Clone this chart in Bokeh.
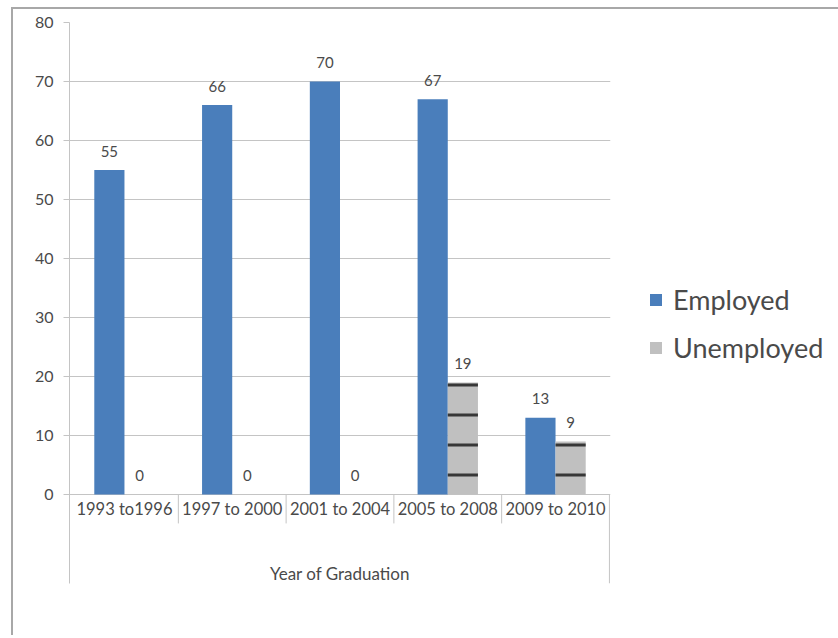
from bokeh.plotting import figure
from bokeh.models import (FactorRange, Range1d, FixedTicker, Legend, LegendItem,
                          ColumnDataSource)
from bokeh.transform import dodge
from bokeh.core.properties import value
from bokeh.embed import file_html
from bokeh.resources import INLINE

categories = ["1993 to1996", "1997 to 2000", "2001 to 2004", "2005 to 2008", "2009 to 2010"]
employed = [55, 66, 70, 67, 13]
unemployed = [0, 0, 0, 19, 9]
y_ticks = [0, 10, 20, 30, 40, 50, 60, 70, 80]
series_names = ["Employed", "Unemployed"]
x_title = "Year of Graduation"

FONT = "Lato"
TXT = "#4a4a4a"
GRID = "#c4c4c4"
BLUE = "#4a7ebb"

src = ColumnDataSource(dict(
    cat=categories,
    emp=employed,
    unemp=unemployed,
    emp_lbl=[str(v) for v in employed],
    unemp_lbl=[str(v) for v in unemployed],
))

y_bottom = -15.08
p = figure(
    x_range=FactorRange(*categories, range_padding=0.01, range_padding_units="absolute"),
    y_range=Range1d(y_bottom, 80),
    frame_width=541, frame_height=561,
    min_border_left=56, min_border_right=10, min_border_top=13, min_border_bottom=52,
    x_axis_location=None,
    output_backend="svg", toolbar_location=None,
)
p.styles = {"border-left": "2px solid #a8a8a8", "border-top": "2px solid #a8a8a8",
            "margin-left": "11px", "margin-top": "7px"}
p.outline_line_color = None
p.background_fill_color = "white"
p.border_fill_color = "white"

p.xgrid.visible = False
p.ygrid.ticker = FixedTicker(ticks=y_ticks)
p.ygrid.grid_line_color = GRID
p.ygrid.grid_line_width = 1

ax = p.yaxis[0]
ax.ticker = FixedTicker(ticks=y_ticks)
ax.axis_line_color = GRID
ax.major_tick_line_color = GRID
ax.major_tick_in = 0
ax.major_tick_out = 6
ax.minor_tick_line_color = None
ax.major_label_text_font = FONT
ax.major_label_text_font_size = "16px"
ax.major_label_text_color = TXT
ax.major_label_standoff = 10

# category separators below the axis
n = len(categories)
sep_x = list(range(1, n + 1))
sep_bottom = [-4.9] * (n - 1) + [y_bottom]
p.segment(x0=sep_x, y0=[0] * n, x1=sep_x, y1=sep_bottom, line_color=GRID, line_width=1)

r_emp = p.vbar(x=dodge("cat", -0.14, range=p.x_range), top="emp", width=0.28, source=src,
               fill_color=BLUE, line_color=None)
r_un = p.vbar(x=dodge("cat", 0.14, range=p.x_range), top="unemp", width=0.28, source=src,
              fill_color="#c0c0c0", line_color=None,
              hatch_pattern="horizontal_line", hatch_color="#1e1e1e",
              hatch_weight=3, hatch_scale=30, hatch_alpha=0.85)

p.text(x=dodge("cat", -0.14, range=p.x_range), y="emp", text="emp_lbl", source=src,
       text_align="center", text_baseline="middle", y_offset=-19,
       text_font=value(FONT), text_font_size="15px", text_color=TXT)
p.text(x=dodge("cat", 0.14, range=p.x_range), y="unemp", text="unemp_lbl", source=src,
       text_align="center", text_baseline="middle", y_offset=-19,
       text_font=value(FONT), text_font_size="15px", text_color=TXT)

# category labels
p.text(x="cat", y=-2.46, text="cat", source=src, text_align="center", text_baseline="middle",
       text_font=value(FONT), text_font_size="16.5px", text_color=TXT)
p.text(x=[categories[2]], y=[-13.4], text=[x_title], text_align="center", text_baseline="middle",
       text_font=value(FONT), text_font_size="17px", text_color=TXT)

legend = Legend(items=[LegendItem(label=series_names[0], renderers=[r_emp]),
                       LegendItem(label=series_names[1], renderers=[r_un])],
                location=(38, 219), orientation="vertical",
                label_text_font=FONT, label_text_font_size="27px", label_text_color=TXT,
                glyph_width=15, glyph_height=15, label_height=26, spacing=15,
                padding=0, margin=0, border_line_color=None, background_fill_alpha=0,
                label_standoff=10)
p.add_layout(legend, "right")

open("out.html", "w").write(file_html(p, INLINE))
